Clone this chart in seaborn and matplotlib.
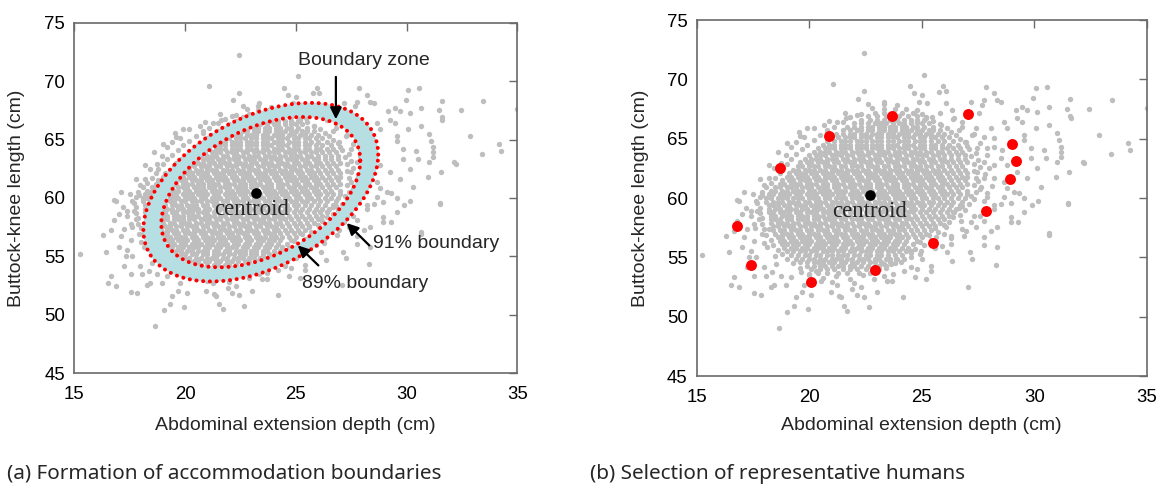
import matplotlib
matplotlib.use("Agg")
import matplotlib.pyplot as plt
from matplotlib.path import Path
from matplotlib.patches import PathPatch
import numpy as np
import pandas as pd
import seaborn as sns

sns.set_style("white")
plt.rcParams['font.family'] = ['Liberation Sans', 'DejaVu Sans']

# dense part of the cloud, read row by row (y: list of x)
core_rows = {
    53.7: [20.4, 20.8, 21.3, 21.7, 22.2, 22.7],
    54.0: [20.1, 20.5, 20.8, 21.1, 21.5, 21.8, 22.1, 22.5, 22.8, 23.1],
    54.3: [19.9, 20.2, 20.5, 20.7, 21.0, 21.3, 21.5, 21.8, 22.0, 22.3, 22.6, 22.9, 23.1, 23.4],
    54.6: [19.6, 19.9, 20.2, 20.4, 20.6, 20.9, 21.1, 21.4, 21.6, 21.9, 22.1, 22.4, 22.7, 22.9, 23.2, 23.6],
    54.9: [19.4, 19.7, 20.0, 20.2, 20.5, 20.7, 21.0, 21.2, 21.4, 21.7, 21.9, 22.2, 22.4, 22.6, 22.9, 23.1, 23.4, 23.6, 23.9],
    55.2: [19.2, 19.5, 19.8, 20.0, 20.3, 20.5, 20.8, 21.0, 21.3, 21.5, 21.7, 22.0, 22.2, 22.5, 22.7, 23.0, 23.2, 23.5, 23.8, 24.1],
    55.5: [19.0, 19.3, 19.6, 19.8, 20.1, 20.3, 20.6, 20.8, 21.0, 21.3, 21.5, 21.8, 22.0, 22.3, 22.5, 22.7, 23.0, 23.2, 23.5, 23.7, 24.0, 24.3],
    55.8: [18.9, 19.2, 19.4, 19.7, 19.9, 20.2, 20.4, 20.6, 20.9, 21.1, 21.4, 21.6, 21.9, 22.1, 22.3, 22.6, 22.8, 23.1, 23.3, 23.6, 23.8, 24.1, 24.4],
    56.1: [18.8, 19.0, 19.3, 19.5, 19.8, 20.0, 20.3, 20.5, 20.7, 21.0, 21.2, 21.5, 21.7, 21.9, 22.2, 22.4, 22.7, 22.9, 23.2, 23.4, 23.7, 23.9, 24.2, 24.6],
    56.4: [18.7, 18.9, 19.2, 19.4, 19.7, 19.9, 20.1, 20.4, 20.6, 20.9, 21.1, 21.3, 21.6, 21.8, 22.1, 22.3, 22.5, 22.8, 23.0, 23.3, 23.5, 23.8, 24.0, 24.3, 24.8],
    56.7: [18.6, 18.8, 19.1, 19.3, 19.6, 19.8, 20.0, 20.3, 20.5, 20.8, 21.0, 21.2, 21.5, 21.7, 22.0, 22.2, 22.4, 22.7, 22.9, 23.2, 23.4, 23.6, 23.9, 24.1, 24.4, 24.7, 25.0],
    57.0: [18.5, 18.8, 19.0, 19.2, 19.5, 19.7, 20.0, 20.2, 20.4, 20.7, 20.9, 21.2, 21.4, 21.6, 21.9, 22.1, 22.4, 22.6, 22.8, 23.1, 23.3, 23.6, 23.8, 24.0, 24.3, 24.6, 24.9, 25.2],
    57.3: [18.4, 18.7, 18.9, 19.2, 19.4, 19.6, 19.9, 20.1, 20.4, 20.6, 20.8, 21.1, 21.3, 21.6, 21.8, 22.0, 22.3, 22.5, 22.8, 23.0, 23.2, 23.5, 23.7, 24.0, 24.2, 24.5, 24.8, 25.1, 25.4],
    57.6: [18.4, 18.6, 18.9, 19.1, 19.3, 19.6, 19.8, 20.1, 20.3, 20.5, 20.8, 21.0, 21.3, 21.5, 21.7, 22.0, 22.2, 22.5, 22.7, 22.9, 23.2, 23.4, 23.7, 23.9, 24.1, 24.4, 24.7, 25.0, 25.3, 25.6],
    57.9: [18.3, 18.6, 18.8, 19.0, 19.3, 19.5, 19.8, 20.0, 20.2, 20.5, 20.7, 21.0, 21.2, 21.4, 21.7, 21.9, 22.2, 22.4, 22.6, 22.9, 23.1, 23.4, 23.6, 23.8, 24.1, 24.3, 24.6, 24.9, 25.2, 25.5, 25.8],
    58.2: [18.3, 18.5, 18.7, 19.0, 19.2, 19.5, 19.7, 19.9, 20.2, 20.4, 20.7, 20.9, 21.1, 21.4, 21.6, 21.9, 22.1, 22.3, 22.6, 22.8, 23.1, 23.3, 23.5, 23.8, 24.0, 24.3, 24.5, 24.8, 25.1, 25.4, 25.7, 26.0],
    58.5: [18.3, 18.5, 18.8, 19.0, 19.2, 19.5, 19.7, 19.9, 20.2, 20.4, 20.6, 20.9, 21.1, 21.3, 21.6, 21.8, 22.1, 22.3, 22.5, 22.8, 23.0, 23.2, 23.5, 23.7, 24.0, 24.2, 24.4, 24.7, 25.0, 25.3, 25.6, 25.9, 26.2],
    58.8: [18.2, 18.4, 18.7, 18.9, 19.1, 19.4, 19.6, 19.9, 20.1, 20.3, 20.6, 20.8, 21.0, 21.3, 21.5, 21.8, 22.0, 22.2, 22.5, 22.7, 22.9, 23.2, 23.4, 23.7, 23.9, 24.1, 24.4, 24.6, 24.9, 25.2, 25.5, 25.8, 26.1, 26.4],
    59.1: [18.2, 18.5, 18.7, 19.0, 19.2, 19.4, 19.7, 19.9, 20.2, 20.4, 20.6, 20.9, 21.1, 21.4, 21.6, 21.8, 22.1, 22.3, 22.6, 22.8, 23.0, 23.3, 23.5, 23.8, 24.0, 24.2, 24.5, 24.7, 25.0, 25.3, 25.6, 25.9, 26.2, 26.5],
    59.4: [18.2, 18.4, 18.6, 18.9, 19.1, 19.4, 19.6, 19.8, 20.1, 20.3, 20.5, 20.8, 21.0, 21.3, 21.5, 21.7, 22.0, 22.2, 22.4, 22.7, 22.9, 23.2, 23.4, 23.6, 23.9, 24.1, 24.4, 24.6, 24.9, 25.1, 25.4, 25.7, 26.0, 26.3, 26.7],
    59.7: [18.1, 18.4, 18.6, 18.8, 19.1, 19.3, 19.5, 19.8, 20.0, 20.3, 20.5, 20.7, 21.0, 21.2, 21.4, 21.7, 21.9, 22.2, 22.4, 22.6, 22.9, 23.1, 23.3, 23.6, 23.8, 24.1, 24.3, 24.5, 24.8, 25.0, 25.3, 25.5, 25.8, 26.1, 26.4, 26.8],
    60.0: [18.1, 18.3, 18.6, 18.8, 19.0, 19.3, 19.5, 19.7, 20.0, 20.2, 20.4, 20.7, 20.9, 21.2, 21.4, 21.6, 21.9, 22.1, 22.3, 22.6, 22.8, 23.1, 23.3, 23.5, 23.8, 24.0, 24.2, 24.5, 24.7, 25.0, 25.2, 25.5, 25.7, 26.0, 26.3, 26.6, 26.9],
    60.3: [18.2, 18.4, 18.7, 18.9, 19.1, 19.4, 19.6, 19.9, 20.1, 20.3, 20.6, 20.8, 21.0, 21.3, 21.5, 21.8, 22.0, 22.2, 22.5, 22.7, 23.0, 23.2, 23.4, 23.7, 23.9, 24.1, 24.4, 24.6, 24.9, 25.1, 25.4, 25.6, 25.9, 26.1, 26.4, 26.7, 27.0],
    60.6: [18.3, 18.5, 18.8, 19.0, 19.3, 19.5, 19.7, 20.0, 20.2, 20.5, 20.7, 20.9, 21.2, 21.4, 21.6, 21.9, 22.1, 22.4, 22.6, 22.8, 23.1, 23.3, 23.6, 23.8, 24.0, 24.3, 24.5, 24.8, 25.0, 25.3, 25.5, 25.8, 26.0, 26.3, 26.6, 27.0],
    60.9: [18.5, 18.7, 19.0, 19.2, 19.4, 19.7, 19.9, 20.1, 20.4, 20.6, 20.8, 21.1, 21.3, 21.6, 21.8, 22.0, 22.3, 22.5, 22.7, 23.0, 23.2, 23.5, 23.7, 23.9, 24.2, 24.4, 24.7, 24.9, 25.2, 25.4, 25.7, 25.9, 26.2, 26.5, 26.8],
    61.2: [18.7, 18.9, 19.2, 19.4, 19.6, 19.9, 20.1, 20.3, 20.6, 20.8, 21.1, 21.3, 21.5, 21.8, 22.0, 22.2, 22.5, 22.7, 23.0, 23.2, 23.4, 23.7, 23.9, 24.2, 24.4, 24.6, 24.9, 25.1, 25.4, 25.6, 25.9, 26.1, 26.4, 26.7, 27.0],
    61.5: [18.8, 19.1, 19.3, 19.6, 19.8, 20.0, 20.3, 20.5, 20.7, 21.0, 21.2, 21.5, 21.7, 21.9, 22.2, 22.4, 22.6, 22.9, 23.1, 23.4, 23.6, 23.8, 24.1, 24.3, 24.6, 24.8, 25.0, 25.3, 25.5, 25.8, 26.0, 26.3, 26.6, 26.9],
    61.8: [19.0, 19.2, 19.5, 19.7, 19.9, 20.2, 20.4, 20.7, 20.9, 21.1, 21.4, 21.6, 21.8, 22.1, 22.3, 22.6, 22.8, 23.0, 23.3, 23.5, 23.7, 24.0, 24.2, 24.5, 24.7, 24.9, 25.2, 25.4, 25.7, 25.9, 26.2, 26.5, 26.8, 27.0],
    62.1: [19.1, 19.4, 19.6, 19.8, 20.1, 20.3, 20.6, 20.8, 21.0, 21.3, 21.5, 21.7, 22.0, 22.2, 22.5, 22.7, 22.9, 23.2, 23.4, 23.6, 23.9, 24.1, 24.4, 24.6, 24.8, 25.1, 25.3, 25.6, 25.8, 26.1, 26.4, 26.7, 27.0],
    62.4: [19.3, 19.5, 19.8, 20.0, 20.2, 20.5, 20.7, 21.0, 21.2, 21.4, 21.7, 21.9, 22.1, 22.4, 22.6, 22.9, 23.1, 23.3, 23.6, 23.8, 24.0, 24.3, 24.5, 24.8, 25.0, 25.2, 25.5, 25.7, 26.0, 26.3, 26.6, 26.9],
    62.7: [19.5, 19.7, 20.0, 20.2, 20.4, 20.7, 20.9, 21.1, 21.4, 21.6, 21.9, 22.1, 22.3, 22.6, 22.8, 23.0, 23.3, 23.5, 23.8, 24.0, 24.2, 24.5, 24.7, 24.9, 25.2, 25.4, 25.7, 25.9, 26.2, 26.5, 26.8],
    63.0: [19.6, 19.9, 20.1, 20.4, 20.6, 20.8, 21.1, 21.3, 21.6, 21.8, 22.0, 22.3, 22.5, 22.7, 23.0, 23.2, 23.5, 23.7, 23.9, 24.2, 24.4, 24.6, 24.9, 25.1, 25.4, 25.6, 25.9, 26.1, 26.4, 26.7, 27.0],
    63.3: [19.8, 20.1, 20.3, 20.5, 20.8, 21.0, 21.2, 21.5, 21.7, 22.0, 22.2, 22.4, 22.7, 22.9, 23.1, 23.4, 23.6, 23.9, 24.1, 24.3, 24.6, 24.8, 25.0, 25.3, 25.5, 25.8, 26.0, 26.3, 26.6, 26.9],
    63.6: [20.0, 20.3, 20.5, 20.7, 21.0, 21.2, 21.4, 21.7, 21.9, 22.2, 22.4, 22.6, 22.9, 23.1, 23.3, 23.6, 23.8, 24.0, 24.3, 24.5, 24.8, 25.0, 25.2, 25.5, 25.7, 26.0, 26.3, 26.6, 26.9],
    63.9: [20.2, 20.5, 20.7, 20.9, 21.2, 21.4, 21.6, 21.9, 22.1, 22.3, 22.6, 22.8, 23.1, 23.3, 23.5, 23.8, 24.0, 24.2, 24.5, 24.7, 24.9, 25.2, 25.4, 25.7, 25.9, 26.2, 26.5, 26.8],
    64.2: [20.4, 20.7, 20.9, 21.1, 21.4, 21.6, 21.8, 22.1, 22.3, 22.5, 22.8, 23.0, 23.2, 23.5, 23.7, 24.0, 24.2, 24.4, 24.7, 24.9, 25.1, 25.4, 25.6, 25.9, 26.1, 26.4, 26.7],
    64.5: [20.6, 20.9, 21.1, 21.4, 21.6, 21.8, 22.1, 22.3, 22.5, 22.8, 23.0, 23.2, 23.5, 23.7, 23.9, 24.2, 24.4, 24.6, 24.9, 25.1, 25.4, 25.6, 25.9, 26.2, 26.6],
    64.8: [20.8, 21.1, 21.4, 21.6, 21.8, 22.1, 22.3, 22.5, 22.8, 23.0, 23.2, 23.5, 23.7, 24.0, 24.2, 24.4, 24.7, 24.9, 25.1, 25.4, 25.7, 26.0, 26.4],
    65.1: [21.0, 21.3, 21.6, 21.8, 22.0, 22.3, 22.5, 22.7, 23.0, 23.2, 23.5, 23.7, 23.9, 24.2, 24.4, 24.6, 24.9, 25.1, 25.4, 25.6, 25.9, 26.2],
    65.4: [21.2, 21.5, 21.8, 22.0, 22.3, 22.5, 22.8, 23.0, 23.2, 23.5, 23.7, 24.0, 24.2, 24.4, 24.7, 24.9, 25.2, 25.4, 25.7, 26.0],
    65.7: [21.5, 21.8, 22.1, 22.3, 22.6, 22.8, 23.1, 23.3, 23.6, 23.8, 24.1, 24.3, 24.5, 24.8, 25.0, 25.3, 25.5, 25.8],
    66.0: [21.7, 22.0, 22.3, 22.6, 22.8, 23.1, 23.3, 23.6, 23.8, 24.1, 24.3, 24.6, 24.8, 25.1, 25.5],
    66.3: [22.0, 22.3, 22.6, 22.9, 23.2, 23.4, 23.7, 24.0, 24.2, 24.5, 24.8, 25.0, 25.3],
    66.6: [22.3, 22.7, 23.0, 23.3, 23.6, 23.9, 24.2, 24.5, 24.8, 25.1],
    66.9: [22.6, 23.0, 23.4, 23.7, 24.0, 24.4, 24.8],
    67.2: [22.9, 23.3, 23.7, 24.1, 24.6],
    67.5: [23.3, 23.8, 24.3],
}

# thinner fringe just outside the dense part
fringe_pts = [
    (24.5, 55.0), (24.9, 55.3), (24.7, 55.7), (25.1, 56.0), (24.9, 56.3), (25.4, 56.5), (25.3, 56.9),
    (25.7, 57.1), (25.6, 57.5), (26.0, 57.7), (26.2, 58.0), (26.4, 58.4), (26.7, 58.6), (26.9, 59.0),
    (26.8, 59.3), (27.1, 59.5), (27.3, 59.9), (27.2, 60.2), (27.4, 60.5), (27.6, 60.8), (27.3, 61.1),
    (27.5, 61.4), (27.4, 61.7), (27.8, 62.0), (27.3, 62.3), (27.6, 62.6), (27.3, 62.9), (27.5, 63.2),
    (27.2, 63.5), (27.4, 63.8), (27.1, 64.1), (27.0, 64.4), (26.9, 64.7), (26.7, 65.0), (26.5, 65.3),
    (26.3, 65.6), (26.1, 65.9), (25.8, 66.2), (25.5, 66.5), (25.2, 66.8), (25.0, 67.1), (24.8, 67.4),
    (27.9, 60.1), (28.1, 61.0), (28.0, 62.5), (27.9, 63.6), (27.6, 64.6), (27.3, 65.4), (26.8, 66.0),
    (26.4, 66.7), (25.8, 67.2), (28.2, 59.4), (27.6, 58.5), (26.8, 57.4), (26.3, 56.6), (25.6, 55.8),
    (25.0, 54.9),
    (19.6, 54.1), (19.3, 54.5), (19.0, 54.9), (18.8, 55.3), (18.6, 55.6), (18.4, 56.0), (18.3, 56.5),
    (18.1, 56.9), (18.0, 57.4), (17.9, 57.8), (17.9, 58.3), (17.8, 58.7), (17.8, 59.2), (17.7, 59.6),
    (17.8, 60.1), (17.9, 60.5), (18.1, 60.9), (18.3, 61.3), (18.5, 61.7), (18.7, 62.1), (18.8, 62.5),
    (19.0, 62.9), (19.2, 63.3), (19.4, 63.7), (19.7, 64.1), (19.9, 64.5), (20.2, 64.9), (20.5, 65.3),
    (20.8, 65.6), (21.1, 66.0), (21.5, 66.4), (21.8, 66.8), (22.3, 67.1), (22.8, 67.6), (23.3, 67.9),
    (23.9, 67.8), (17.4, 58.9), (17.5, 60.3), (17.8, 61.6), (18.2, 62.8), (18.6, 63.9), (19.0, 64.6),
    (19.6, 65.2), (20.2, 65.9), (20.9, 66.5), (21.6, 67.2), (22.6, 67.9), (18.5, 55.1), (18.0, 56.2),
    (17.6, 57.5),
    (20.0, 53.5), (20.6, 53.3), (21.2, 53.4), (21.8, 53.2), (22.4, 53.5), (23.0, 53.8), (23.4, 54.1),
    (23.8, 54.5), (24.2, 54.9), (24.5, 55.4), (21.0, 52.9), (22.0, 52.8), (23.7, 53.6),
]

# scattered people around the dense part
outer_pts = [
    (22.45, 72.23), (21.07, 69.62), (22.45, 69.00), (22.15, 68.36), (22.14, 66.99), (22.98, 66.29),
    (23.32, 68.11), (21.62, 66.71), (21.25, 66.43), (20.66, 66.15), (20.81, 65.73), (19.92, 65.87),
    (19.55, 65.59), (19.77, 65.17), (19.40, 64.75), (19.18, 64.33), (18.95, 63.63), (18.73, 62.93),
    (18.44, 62.51), (18.21, 61.66), (17.99, 61.10), (17.92, 60.26), (17.10, 60.49), (16.81, 59.84),
    (25.10, 70.40), (24.48, 69.45), (25.96, 69.45), (25.77, 68.95), (26.07, 69.00), (27.84, 69.37),
    (30.06, 69.23), (30.58, 69.37), (29.96, 68.39), (28.21, 68.81), (28.36, 68.25), (28.51, 68.11),
    (27.77, 68.25), (27.69, 67.83), (29.47, 67.69), (29.69, 67.41), (30.14, 67.27), (31.47, 67.49),
    (30.66, 67.69), (32.44, 67.49), (31.62, 66.71), (29.18, 67.41), (29.25, 66.71), (29.47, 66.43),
    (30.06, 65.87), (30.66, 66.15), (28.66, 66.43), (28.81, 65.87), (29.55, 65.31), (29.55, 64.89),
    (29.84, 64.19), (30.44, 64.05), (30.51, 63.35), (31.03, 65.45), (31.10, 64.89), (31.18, 64.33),
    (31.18, 63.91), (31.18, 63.49), (31.03, 63.07), (31.55, 62.23), (32.21, 62.93), (30.95, 61.80),
    (30.29, 60.96), (29.69, 61.66), (30.14, 62.51), (29.84, 63.35), (29.25, 62.23), (28.81, 62.79),
    (28.51, 63.35), (28.58, 64.05), (28.21, 64.33), (29.32, 60.40), (29.10, 60.54), (29.55, 59.98),
    (24.66, 68.81), (25.03, 68.67), (24.88, 68.11), (25.25, 67.97), (26.07, 67.97), (26.36, 67.41),
    (26.43, 66.71), (25.47, 66.85), (25.18, 66.71), (24.66, 67.13), (24.81, 66.43), (25.84, 66.15),
    (26.66, 65.73), (26.81, 66.43), (27.18, 68.11), (27.55, 67.13), (27.40, 65.87), (27.77, 65.17),
    (28.06, 65.87), (27.25, 65.31), (26.95, 64.75), (28.21, 65.03), (27.92, 64.19), (27.47, 64.19),
    (27.77, 63.07), (28.21, 62.79), (27.47, 62.23), (27.77, 61.66), (28.21, 61.66), (27.62, 60.96),
    (27.92, 60.40), (28.66, 61.38), (28.81, 60.82), (28.66, 60.12),
    (16.88, 59.76), (16.29, 56.82), (16.44, 55.42), (15.25, 55.22), (16.66, 53.32), (16.51, 52.70),
    (16.88, 52.48), (17.55, 51.97), (17.84, 51.86), (18.29, 52.53), (18.44, 52.70), (18.66, 49.06),
    (19.03, 50.38), (19.32, 50.94), (19.40, 51.64), (19.70, 52.06), (19.95, 50.66), (20.07, 51.86),
    (19.77, 52.70), (18.96, 52.70), (18.73, 53.46), (19.18, 53.32), (20.51, 53.04), (20.95, 52.06),
    (21.32, 51.78), (21.70, 50.52), (21.55, 50.94), (21.40, 51.64), (21.92, 52.34), (22.14, 51.86),
    (22.44, 51.69), (22.66, 50.80), (23.03, 52.06), (22.29, 52.48), (22.88, 53.18), (23.32, 53.46),
    (21.25, 52.70), (20.29, 53.88), (19.99, 53.60), (19.62, 53.74), (18.36, 53.74), (18.07, 53.46),
    (17.99, 54.16), (18.51, 54.44), (17.55, 53.46), (17.25, 54.16), (17.32, 55.00), (17.03, 55.84),
    (17.40, 55.56), (17.62, 55.00), (17.10, 56.73), (17.25, 57.38), (17.55, 57.80), (17.77, 58.22),
    (17.40, 58.50), (17.70, 58.92), (17.18, 59.20), (17.03, 58.64), (16.81, 58.08), (17.55, 56.40),
    (18.14, 55.84), (17.92, 56.96), (18.21, 57.38), (16.66, 57.24), (17.62, 59.76),
    (30.17, 59.76), (31.50, 59.48), (29.89, 59.42), (29.55, 58.78), (30.66, 56.90), (29.28, 57.94),
    (28.95, 58.36), (28.95, 57.94), (28.36, 57.52), (28.06, 57.24), (27.77, 56.73), (27.77, 56.03),
    (28.36, 55.84), (28.29, 54.35), (27.25, 54.86), (27.15, 55.42), (27.07, 52.53), (26.36, 54.72),
    (26.14, 55.42), (26.29, 56.12), (25.92, 55.98), (25.40, 54.30), (25.40, 53.88), (25.18, 53.18),
    (24.78, 54.02), (24.51, 54.16), (24.69, 53.32), (24.18, 51.69), (23.69, 53.04), (23.47, 53.04),
    (23.62, 54.44), (23.32, 54.44), (24.06, 54.58), (24.21, 53.88), (23.84, 54.86), (24.95, 55.56),
    (24.51, 55.56), (27.40, 57.52), (27.18, 57.94), (26.95, 57.24), (26.88, 56.82), (26.73, 58.08),
    (27.32, 58.50), (27.77, 58.08), (28.21, 59.06), (28.51, 59.48), (27.77, 59.76), (28.95, 59.62),
    (26.66, 59.20), (26.43, 58.78), (26.06, 57.52), (25.99, 56.96), (26.29, 56.82), (25.62, 56.68),
    (35.00, 67.61), (34.18, 64.61), (34.26, 64.04), (33.39, 63.74), (33.47, 68.26), (32.86, 65.31),
    (32.15, 63.06), (31.58, 68.31), (31.58, 66.91), (31.49, 59.55), (30.67, 57.08),
]

# representative humans (panel b)
red_x = [16.81, 17.40, 18.69, 20.07, 20.86, 22.92, 23.67, 25.50, 27.07, 27.86, 29.02, 29.19, 28.94]
red_y = [57.61, 54.35, 62.50, 52.95, 65.25, 53.93, 66.91, 56.18, 67.11, 58.93, 64.52, 63.12, 61.63]

centroid_a = (23.2, 60.4)
centroid_b = (22.7, 60.25)

# boundary ellipses: centre, half extents (x, y), correlation
bnd_center = (23.42, 60.5)
bnd_rho = 0.42
bnd_91 = (5.30, 7.64)
bnd_89 = (4.49, 6.43)

rows = [(x, y) for y, xs in core_rows.items() for x in xs] + fringe_pts + outer_pts
df = pd.DataFrame(rows, columns=["depth", "length"])

GRAY = "#bebebe"
SPINE = "#6a6a6a"


def ellipse(half):
    t = np.linspace(0, 2 * np.pi, 500)
    ex = bnd_center[0] + half[0] * np.cos(t)
    ey = bnd_center[1] + half[1] * (bnd_rho * np.cos(t) + np.sqrt(1 - bnd_rho ** 2) * np.sin(t))
    return ex, ey


fig = plt.figure(figsize=(11.62, 4.93), dpi=100)
ax_a = fig.add_axes([0.0639, 0.2428, 0.3813, 0.7112])
ax_b = fig.add_axes([0.5996, 0.2373, 0.3873, 0.7221])

for ax in (ax_a, ax_b):
    sns.scatterplot(data=df, x="depth", y="length", ax=ax, color=GRAY, s=15,
                    linewidth=0, zorder=1)

# panel a: boundary zone
xo, yo = ellipse(bnd_91)
xi, yi = ellipse(bnd_89)
verts = np.concatenate([np.column_stack([xo, yo]), np.column_stack([xi[::-1], yi[::-1]])])
codes = ([Path.MOVETO] + [Path.LINETO] * (len(xo) - 1)
         + [Path.MOVETO] + [Path.LINETO] * (len(xi) - 1))
ax_a.add_patch(PathPatch(Path(verts, codes), facecolor="#b5dfe3", edgecolor="none", zorder=2))
for ex, ey in ((xo, yo), (xi, yi)):
    ax_a.plot(ex, ey, color="red", lw=2.9, linestyle=(0, (0.01, 1.66)),
              dash_capstyle="round", zorder=3)

arrow = dict(arrowstyle="-|>", color="black", lw=1.6, mutation_scale=17, shrinkA=0, shrinkB=0)
ax_a.annotate("", xy=(26.81, 66.74), xytext=(26.81, 70.36), arrowprops=arrow, zorder=4)
ax_a.annotate("", xy=(27.30, 57.85), xytext=(28.32, 55.94), arrowprops=arrow, zorder=4)
ax_a.annotate("", xy=(25.09, 55.94), xytext=(26.02, 54.23), arrowprops=arrow, zorder=4)
ax_a.text(28.07, 71.8, "Boundary zone", fontsize=14, ha="center", va="center")
ax_a.text(28.5, 56.14, "91% boundary", fontsize=14, ha="left", va="center")
ax_a.text(25.27, 52.71, "89% boundary", fontsize=14, ha="left", va="center")

# panel b: selected humans
sns.scatterplot(x=red_x, y=red_y, ax=ax_b, color="red", s=62, linewidth=0, zorder=3)

for ax, c, dx in ((ax_a, centroid_a, -0.18), (ax_b, centroid_b, 0.0)):
    ax.scatter([c[0]], [c[1]], color="black", s=58, linewidth=0, zorder=5)
    ax.text(c[0] + dx, c[1] - 1.35, "centroid", fontsize=16.5, ha="center", va="center",
            family=["Liberation Serif", "DejaVu Serif"], zorder=6)

for ax, xl_y, yl_x in ((ax_a, -0.150, -0.130), (ax_b, -0.140, -0.126)):
    ax.set_xlim(15, 35)
    ax.set_ylim(45, 75)
    ax.set_xticks([15, 20, 25, 30, 35])
    ax.set_yticks([45, 50, 55, 60, 65, 70, 75])
    ax.tick_params(direction="in", length=6, width=1, color=SPINE, top=True, right=True,
                   labelsize=13.4, labelcolor="black")
    ax.tick_params(axis="x", pad=9.4)
    ax.tick_params(axis="y", pad=6.5)
    for sp in ax.spines.values():
        sp.set_color(SPINE)
        sp.set_linewidth(1.2)
    ax.set_xlabel("Abdominal extension depth (cm)", fontsize=14, va="center")
    ax.set_ylabel("Buttock-knee length (cm)", fontsize=14, va="center")
    ax.xaxis.set_label_coords(0.5, xl_y)
    ax.yaxis.set_label_coords(yl_x, 0.5)

cap = ["Noto Sans", "DejaVu Sans"]
fig.text(7 / 1162, 1 - 479 / 493, "(a) Formation of accommodation boundaries",
         fontsize=14.9, va="baseline", ha="left", family=cap)
fig.text(590 / 1162, 1 - 479 / 493, "(b) Selection of representative humans",
         fontsize=14.9, va="baseline", ha="left", family=cap)

fig.savefig("out.png", dpi=100)
